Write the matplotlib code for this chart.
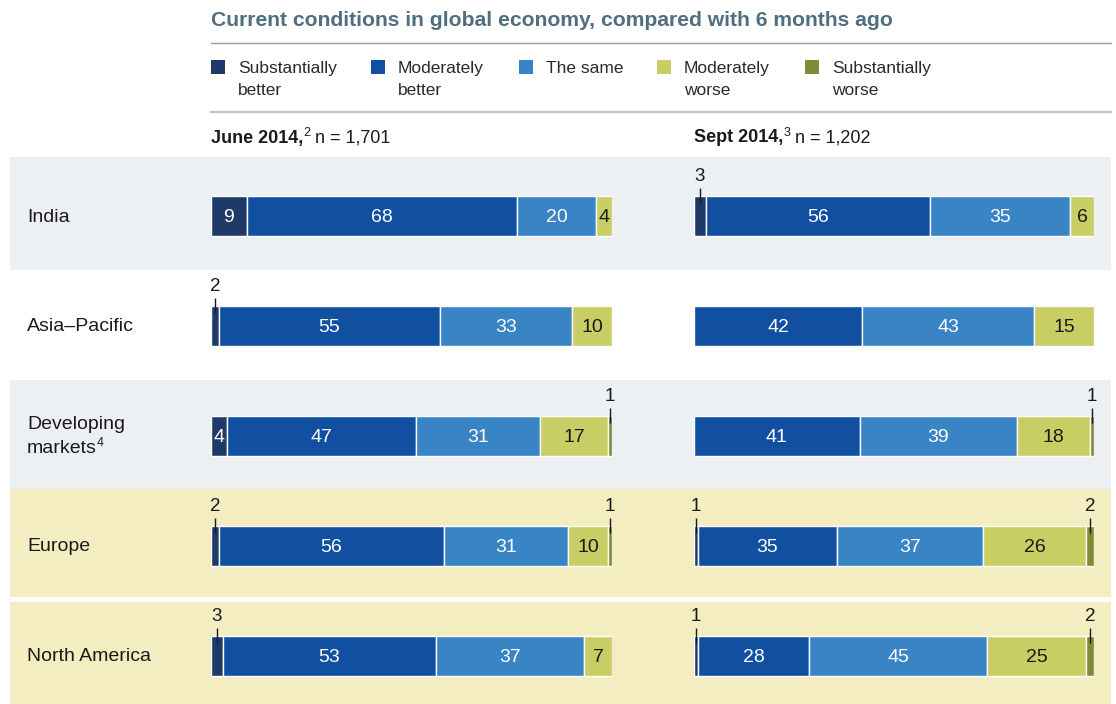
import matplotlib
matplotlib.use("Agg")
import matplotlib.pyplot as plt
from matplotlib.patches import Rectangle

plt.rcParams["font.family"] = ["Liberation Sans", "DejaVu Sans"]

# ---- data -----------------------------------------------------------------
title = "Current conditions in global economy, compared with 6 months ago"
regions = ["India", "Asia–Pacific", "Developing\nmarkets", "Europe", "North America"]
region_notes = ["", "", "4", "", ""]
categories = ["Substantially\nbetter", "Moderately\nbetter", "The same",
              "Moderately\nworse", "Substantially\nworse"]

# shares per region, in category order
june_2014 = [
    [9, 68, 20, 4, 0],
    [2, 55, 33, 10, 0],
    [4, 47, 31, 17, 1],
    [2, 56, 31, 10, 1],
    [3, 53, 37, 7, 0],
]
sept_2014 = [
    [3, 56, 35, 6, 0],
    [0, 42, 43, 15, 0],
    [0, 41, 39, 18, 1],
    [1, 35, 37, 26, 2],
    [1, 28, 45, 25, 2],
]
panel_titles = [("June 2014,", "2", " n = 1,701"), ("Sept 2014,", "3", " n = 1,202")]

# ---- styling --------------------------------------------------------------
colors = ["#1F3A69", "#1150A1", "#3884C5", "#C8CD64", "#7D8B36"]
text_colors = ["white", "white", "white", "#1a1a1a", "#1a1a1a"]
band_colors = ["#ECF0F3", "white", "#ECF0F3", "#F4EDC1", "#F4EDC1"]
DARK = "#1a1a1a"

W, H = 1116, 704
fig = plt.figure(figsize=(W / 100, H / 100), dpi=100)

# full-figure canvas in pixel units for frame elements
bg = fig.add_axes([0, 0, 1, 1])
bg.set_xlim(0, W)
bg.set_ylim(H, 0)
bg.axis("off")

# row bands
band_edges = [(157, 270), (270, 380), (380, 489), (489, 597), (602, 704)]
for (y0, y1), c in zip(band_edges, band_colors):
    bg.add_patch(Rectangle((10, y0), 1101, y1 - y0, color=c, lw=0, zorder=0))

# title and rules
bg.text(211, 20, title, fontsize=15.2, fontweight="bold", color="#4F6E80",
        va="center", ha="left")
bg.plot([211, 1111], [42.5, 42.5], color="#9a9a9a", lw=1.0)
bg.plot([211, 1111], [111.5, 111.5], color="#c4c4c4", lw=1.6)

# legend
legend_x = [211, 371, 519, 657, 805]
for x, c, lab in zip(legend_x, colors, categories):
    bg.add_patch(Rectangle((x, 60), 14, 14, color=c, lw=0))
    bg.text(x + 27, 61, lab, fontsize=12.5, color="#2a2a2a", va="top",
            ha="left", linespacing=1.55)

# panel headers
for x, (bold, sup, rest) in zip([211, 694], panel_titles):
    t1 = bg.text(x, 138, bold, fontsize=13, fontweight="bold", color=DARK,
                 va="center", ha="left")
    t2 = bg.annotate(sup, xy=(1, 0.45), xycoords=t1, fontsize=9,
                     color=DARK, va="bottom", ha="left")
    bg.annotate(rest, xy=(1, 0), xycoords=(t2, t1), fontsize=13,
                color=DARK, va="bottom", ha="left")

# region labels
row_centers = [215.5, 325, 435, 545, 655]
for y, name, note in zip(row_centers, regions, region_notes):
    lines = name.split("\n")
    step = 24
    y0 = y + 1.5 - step * (len(lines) - 1) / 2
    t = None
    for k, line in enumerate(lines):
        t = bg.text(27, y0 + k * step, line, fontsize=14, color=DARK,
                    va="center", ha="left")
    if note:
        bg.annotate(note, xy=(1, 0.45), xycoords=t, fontsize=9, color=DARK,
                    va="bottom", ha="left")

# ---- bar panels -----------------------------------------------------------
ROW = 110.0
top_px, bot_px = 160.0, 704.0
y_top = (top_px - row_centers[0]) / ROW
y_bot = (bot_px - row_centers[0]) / ROW
BAR_H = 40 / ROW


def draw_panel(x0, width, data):
    ax = fig.add_axes([x0 / W, 0, width / W, (bot_px - top_px) / H])
    ax.set_xlim(0, 100)
    ax.set_ylim(y_bot, y_top)
    ax.axis("off")
    ax.patch.set_visible(False)
    for i, row in enumerate(data):
        total = sum(row)
        left = 0.0
        for j, v in enumerate(row):
            if v == 0:
                continue
            w = v / total * 100
            ax.barh(i, w, left=left, height=BAR_H, color=colors[j],
                    edgecolor="white", linewidth=1.0)
            cx = left + w / 2
            if v <= 3:
                ax.text(cx, i - 39 / ROW, str(v), fontsize=13.5, color=DARK,
                        ha="center", va="center")
                ax.plot([cx, cx], [i - 28 / ROW, i - 13 / ROW], color=DARK,
                        lw=1.0, solid_capstyle="butt")
            else:
                ax.text(cx, i + 1.5 / ROW, str(v), fontsize=14,
                        color=text_colors[j], ha="center", va="center")
            left += w


draw_panel(211, 401, june_2014)
draw_panel(694, 400, sept_2014)

fig.savefig("out.png", dpi=100)
